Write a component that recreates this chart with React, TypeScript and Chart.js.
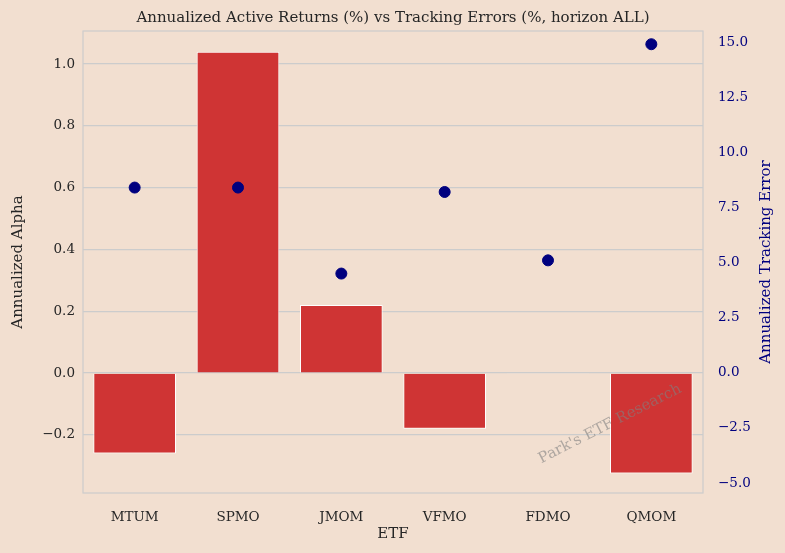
import React, { useEffect, useRef } from "react";
import { Chart, registerables } from "chart.js";
Chart.register(...registerables);

const categories = ["MTUM", "SPMO", "JMOM", "VFMO", "FDMO", "QMOM"];
const alphaValues = [-0.26, 1.04, 0.22, -0.18, -0.003, -0.325];
const trackingErrors = [8.4, 8.4, 4.5, 8.2, 5.1, 14.9];
const leftTicks = [-0.2, 0, 0.2, 0.4, 0.6, 0.8, 1.0];
const rightTicks = [-5, -2.5, 0, 2.5, 5, 7.5, 10, 12.5, 15];

const BG = "#f2dfd0";
const FONT = "'DejaVu Serif', serif";
const TITLE = "Annualized Active Returns (%) vs Tracking Errors (%, horizon ALL)";

const fmt = (v: any) => (Number(v) < 0 ? "\u2212" + Math.abs(Number(v)).toFixed(1) : Number(v).toFixed(1));

const bgPlugin = {
  id: "bg",
  beforeDraw(chart: any) {
    const { ctx, width, height } = chart;
    ctx.save();
    ctx.fillStyle = BG;
    ctx.fillRect(0, 0, width, height);
    ctx.restore();
  },
  afterDraw(chart: any) {
    const { ctx, chartArea } = chart;
    ctx.save();
    ctx.strokeStyle = "#cccccc";
    ctx.lineWidth = 1.2;
    ctx.strokeRect(chartArea.left, chartArea.top, chartArea.right - chartArea.left, chartArea.bottom - chartArea.top);
    ctx.textAlign = "center";
    ctx.textBaseline = "middle";
    ctx.font = "15px " + FONT;
    ctx.fillStyle = "#262626";
    ctx.fillText(TITLE, (chartArea.left + chartArea.right) / 2, 18);
    ctx.fillText("ETF", (chartArea.left + chartArea.right) / 2, 534);
    ctx.save();
    ctx.translate(18, (chartArea.top + chartArea.bottom) / 2);
    ctx.rotate(-Math.PI / 2);
    ctx.fillText("Annualized Alpha", 0, 0);
    ctx.restore();
    ctx.save();
    ctx.translate(766, (chartArea.top + chartArea.bottom) / 2);
    ctx.rotate(-Math.PI / 2);
    ctx.fillStyle = "#00007f";
    ctx.fillText("Annualized Tracking Error", 0, 0);
    ctx.restore();
    ctx.translate(610, 424);
    ctx.rotate((-Math.PI / 180) * 27);
    ctx.font = "15px " + FONT;
    ctx.fillStyle = "rgba(128,128,128,0.6)";
    ctx.fillText("Park's ETF Research", 0, 0);
    ctx.restore();
  },
};

export default function App() {
  const ref = useRef<HTMLCanvasElement>(null);
  useEffect(() => {
    const chart = new Chart(ref.current!, {
      type: "bar",
      data: {
        labels: categories,
        datasets: [
          {
            type: "line",
            data: trackingErrors,
            yAxisID: "y2",
            showLine: false,
            pointRadius: 5.5,
            pointBackgroundColor: "#00007f",
            pointBorderColor: "#00007f",
            order: 0,
          } as any,
          {
            type: "bar",
            data: alphaValues,
            yAxisID: "y",
            backgroundColor: "#cf3434",
            borderColor: "#ffffff",
            borderWidth: 1,
            categoryPercentage: 0.8,
            barPercentage: 1,
            order: 1,
          },
        ],
      },
      options: {
        animation: false,
        responsive: false,
        devicePixelRatio: 1,
        layout: { padding: { left: 0, right: 0, top: 31, bottom: 0 } },
        plugins: { legend: { display: false }, tooltip: { enabled: false }, title: { display: false } },
        scales: {
          x: {
            grid: { display: false },
            border: { display: false },
            ticks: { font: { family: FONT, size: 13.5 }, color: "#262626", padding: 8 },
            afterFit(s: any) { s.height = 60; },
          },
          y: {
            min: -0.388,
            max: 1.107,
            afterBuildTicks(axis: any) { axis.ticks = leftTicks.map((v) => ({ value: v })); },
            grid: { color: "#cccccc", lineWidth: 1.2, drawTicks: false },
            border: { display: false },
            ticks: { font: { family: FONT, size: 13.5 }, color: "#262626", padding: 8, callback: fmt },
            afterFit(s: any) { s.width = 83; },
          },
          y2: {
            position: "right",
            min: -5.45,
            max: 15.5,
            afterBuildTicks(axis: any) { axis.ticks = rightTicks.map((v) => ({ value: v })); },
            grid: { display: false },
            border: { display: false },
            ticks: { font: { family: FONT, size: 13.5 }, color: "#00007f", padding: 7, callback: fmt },
            afterFit(s: any) { s.width = 82; },
          },
        },
      } as any,
      plugins: [bgPlugin],
    });
    return () => chart.destroy();
  }, []);
  return (
    <div style={{ position: "absolute", left: 0, top: 0, width: 785, height: 553, background: BG }}>
      <canvas ref={ref} width={785} height={553} />
    </div>
  );
}
